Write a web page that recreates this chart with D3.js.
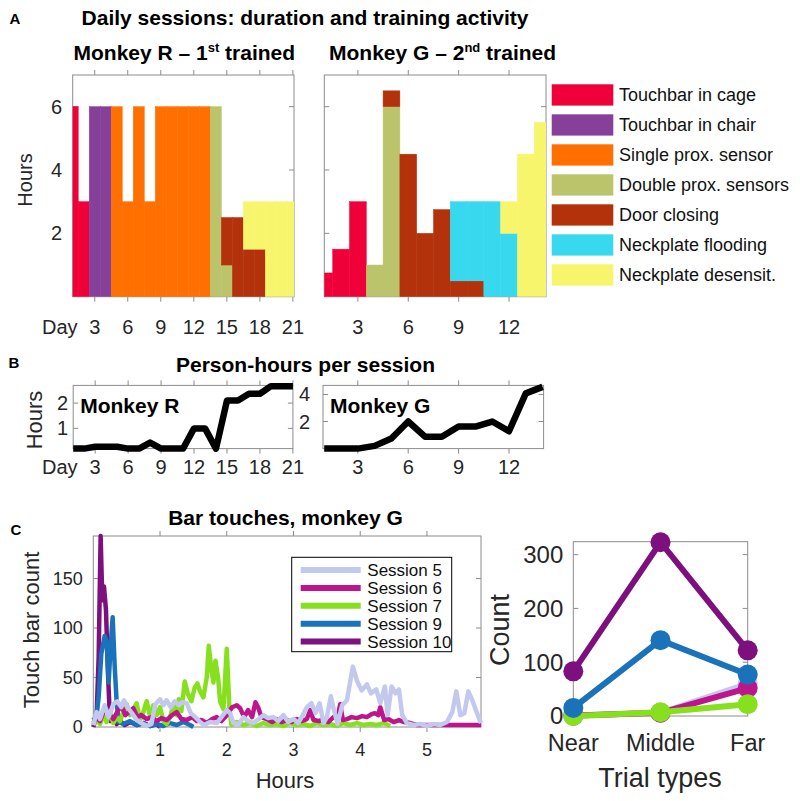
<!DOCTYPE html>
<html><head><meta charset="utf-8">
<script src="https://cdn.jsdelivr.net/npm/d3@7"></script>
<style>
body{margin:0;background:#fff;}
svg text{font-family:"Liberation Sans",Arial,Helvetica,sans-serif;}
</style></head><body>
<svg id="c" width="800" height="801"></svg>
<script>
// ---------------- DATA ----------------
const categories = ["Touchbar in cage","Touchbar in chair","Single prox. sensor","Double prox. sensors","Door closing","Neckplate flooding","Neckplate desensit."];
const catColors  = ["#EF0038","#87409A","#FF7000","#BBC46A","#B3320C","#38D9EF","#F7F56C"];

const daysR = d3.range(1,22);
const rCage   = [6,3,0,0,0,0,0,0,0,0,0,0,0,0,0,0,0,0,0,0,0];
const rChair  = [0,0,6,6,0,0,0,0,0,0,0,0,0,0,0,0,0,0,0,0,0];
const rSingle = [0,0,0,0,6,3,6,3,6,6,6,6,6,0,0,0,0,0,0,0,0];
const rDouble = [0,0,0,0,0,0,0,0,0,0,0,0,0,6,1,0,0,0,0,0,0];
const rDoor   = [0,0,0,0,0,0,0,0,0,0,0,0,0,0,1.5,2.5,1.5,1.5,0,0,0];
const rFlood  = [0,0,0,0,0,0,0,0,0,0,0,0,0,0,0,0,0,0,0,0,0];
const rDesens = [0,0,0,0,0,0,0,0,0,0,0,0,0,0,0,0,1.5,1.5,3,3,3];

const daysG = d3.range(1,15);
const gCage   = [0.75,1.5,3,0,0,0,0,0,0,0,0,0,0,0];
const gChair  = [0,0,0,0,0,0,0,0,0,0,0,0,0,0];
const gSingle = [0,0,0,0,0,0,0,0,0,0,0,0,0,0];
const gDouble = [0,0,0,1,6,0,0,0,0,0,0,0,0,0];
const gDoor   = [0,0,0,0,0.5,4.5,2,2.75,0.5,0.5,0,0,0,0];
const gFlood  = [0,0,0,0,0,0,0,0,2.5,2.5,3,2,0,0];
const gDesens = [0,0,0,0,0,0,0,0,0,0,0,1,4.5,5.5];

const dayTicksR = [3,6,9,12,15,18,21];
const dayTicksG = [3,6,9,12];
const hourTicksA = [2,4,6];

const personR = [0.2,0.2,0.27,0.27,0.27,0.2,0.2,0.44,0.2,0.2,0.2,1.0,1.0,0.2,2.1,2.1,2.37,2.37,2.67,2.67,2.67];
const personG = [0,0,0,0.2,0.75,2.0,0.88,0.88,1.63,1.63,2.0,1.28,4.08,4.56];
const hourTicksBR = [1,2];
const hourTicksBG = [2,4];

// bar touches, monkey G: [hour, touch count]
const session5 = [[0,2],[0.05,15],[0.1,8],[0.17,22],[0.23,10],[0.3,23],[0.36,26],[0.42,20],[0.46,27],[0.52,19],[0.58,14],[0.65,7],[0.72,4],[0.8,1],[0.87,3],[0.93,23],[1.0,28],[1.05,22],[1.1,27],[1.16,20],[1.22,26],[1.28,22],[1.33,25],[1.4,24],[1.46,14],[1.53,10],[1.6,5],[1.66,2],[1.75,5],[1.85,4],[1.92,10],[2.0,17],[2.05,14],[2.1,4],[2.18,3],[2.25,10],[2.32,6],[2.4,4],[2.48,8],[2.55,12],[2.62,9],[2.7,10],[2.77,6],[2.85,12],[2.92,5],[3.0,8],[3.07,4],[3.14,12],[3.2,20],[3.27,24],[3.33,14],[3.39,24],[3.45,4],[3.5,10],[3.56,31],[3.6,19],[3.66,3],[3.73,22],[3.8,27],[3.89,61],[3.95,47],[4.02,37],[4.1,43],[4.16,34],[4.24,38],[4.3,24],[4.37,41],[4.41,12],[4.47,41],[4.53,34],[4.58,38],[4.63,12],[4.7,4],[4.8,2],[4.9,3],[5.0,1],[5.1,3],[5.2,2],[5.3,5],[5.38,15],[5.44,36],[5.5,12],[5.56,14],[5.62,36],[5.68,27],[5.75,14],[5.81,4]];
const session6 = [[0,4],[0.05,10],[0.1,6],[0.15,15],[0.2,18],[0.25,12],[0.3,8],[0.35,14],[0.42,22],[0.48,12],[0.55,16],[0.6,19],[0.66,10],[0.72,12],[0.8,8],[0.87,10],[0.95,6],[1.02,9],[1.1,7],[1.18,12],[1.25,15],[1.32,8],[1.4,7],[1.48,10],[1.55,6],[1.62,7],[1.7,4],[1.78,8],[1.85,10],[1.92,6],[2.0,12],[2.08,20],[2.15,22],[2.2,19],[2.26,10],[2.32,17],[2.38,10],[2.43,25],[2.47,20],[2.52,10],[2.6,8],[2.68,5],[2.75,8],[2.82,5],[2.9,7],[2.97,5],[3.05,8],[3.12,6],[3.2,8],[3.25,17],[3.3,7],[3.38,6],[3.45,8],[3.52,5],[3.6,10],[3.66,9],[3.7,23],[3.74,7],[3.8,8],[3.87,10],[3.95,9],[4.03,11],[4.1,10],[4.17,13],[4.22,14],[4.27,12],[4.3,20],[4.36,7],[4.42,8],[4.5,5],[4.58,7],[4.66,5],[4.75,4],[4.85,2],[5.0,2],[5.2,2],[5.4,2],[5.6,2],[5.81,2]];
const session7 = [[0,2],[0.05,8],[0.1,3],[0.15,12],[0.2,5],[0.25,15],[0.3,4],[0.35,10],[0.4,6],[0.45,15],[0.5,23],[0.55,12],[0.6,18],[0.65,24],[0.7,7],[0.75,15],[0.8,26],[0.85,11],[0.9,22],[0.95,12],[1.0,20],[1.05,6],[1.1,3],[1.15,10],[1.2,22],[1.25,12],[1.28,28],[1.32,16],[1.37,46],[1.42,33],[1.47,26],[1.52,40],[1.56,44],[1.6,36],[1.65,30],[1.7,50],[1.73,82],[1.77,58],[1.8,45],[1.83,67],[1.87,50],[1.9,26],[1.95,18],[2.0,79],[2.04,18],[2.07,2],[2.15,5],[2.25,2],[2.35,4],[2.45,1],[2.55,4],[2.65,2],[2.75,3],[2.85,1],[2.95,4],[3.05,2],[3.15,3],[3.25,1],[3.35,4],[3.45,2],[3.55,3],[3.65,1],[3.75,4],[3.85,2],[3.95,4],[4.05,2],[4.15,3],[4.25,2],[4.35,4],[4.45,1]];
const session9 = [[0,10],[0.04,6],[0.08,30],[0.12,74],[0.17,92],[0.2,86],[0.23,45],[0.26,82],[0.29,111],[0.32,62],[0.35,25],[0.38,5],[0.45,3],[0.55,6],[0.65,2],[0.75,4],[0.85,1],[0.95,3],[1.05,1],[1.15,4],[1.25,2],[1.35,5],[1.45,2],[1.5,0]];
const session10 = [[0,0],[0.05,12],[0.08,70],[0.11,193],[0.135,128],[0.16,142],[0.19,118],[0.22,55],[0.25,6],[0.3,9],[0.35,3],[0.4,6],[0.47,2],[0.55,5],[0.65,2],[0.75,4],[0.85,1],[0.95,3],[1.0,0]];
const sessionNames  = ["Session 5","Session 6","Session 7","Session 9","Session 10"];
const sessionColors = ["#C3C8EE","#BE158C","#86E01E","#1A72BB","#7E0F7E"];
const hourTicksC = [1,2,3,4,5];
const countTicksC = [0,50,100,150];

const trialTypes = ["Near","Middle","Far"];
const countS5  = [0,6,60];
const countS6  = [1,6,52];
const countS7  = [0,7,22];
const countS9  = [15,141,77];
const countS10 = [83,323,122];
const countTicks = [0,100,200,300];

// ---------------- DRAW ----------------
const svg = d3.select("#c");
const AX = "#8c8c8c", TXT = "#262626";

function label(x,y,s,size,o={}){
  const t = svg.append("text").attr("x",x).attr("y",y).attr("dy","0.35em")
    .attr("font-size",size).attr("fill",o.fill||TXT)
    .attr("text-anchor",o.anchor||"middle").attr("font-weight",o.bold?"bold":null).text(s);
  if(o.rot) t.attr("transform",`rotate(${o.rot},${x},${y})`);
  return t;
}
function box(g,x0,x1,y0,y1){
  g.append("rect").attr("x",x0).attr("y",y0).attr("width",x1-x0).attr("height",y1-y0)
   .attr("fill","none").attr("stroke",AX).attr("stroke-width",1);
}
function inTicksY(g,y,ticks,x0,x1){
  ticks.forEach(t=>{
    g.append("line").attr("x1",x0).attr("x2",x0+5).attr("y1",y(t)).attr("y2",y(t)).attr("stroke",AX);
    g.append("line").attr("x1",x1).attr("x2",x1-5).attr("y1",y(t)).attr("y2",y(t)).attr("stroke",AX);
  });
}
function inTicksX(g,x,ticks,y0,y1){
  ticks.forEach(t=>{
    g.append("line").attr("y1",y0).attr("y2",y0+5).attr("x1",x(t)).attr("x2",x(t)).attr("stroke",AX);
    g.append("line").attr("y1",y1).attr("y2",y1-5).attr("x1",x(t)).attr("x2",x(t)).attr("stroke",AX);
  });
}

// Headings
label(15,19,"A",15,{bold:true,fill:"#000"});
label(305,18,"Daily sessions: duration and training activity",21,{bold:true,fill:"#000"});
function subTitle(x,y,pre,num,sup,post){
  const t = svg.append("text").attr("x",x).attr("y",y).attr("dy","0.35em").attr("font-size",21)
    .attr("font-weight","bold").attr("fill","#000");
  t.append("tspan").text(pre+num);
  t.append("tspan").attr("font-size",13).attr("dy",-8).text(sup);
  t.append("tspan").attr("dy",8).text(post);
}
subTitle(73.5,53,"Monkey R \u2013 ","1","st"," trained");
subTitle(329,53,"Monkey G \u2013 ","2","nd"," trained");

// Panel A
const yA = d3.scaleLinear().domain([0,7]).range([296.7,75]);
const xAR = d3.scaleLinear().domain([1,21.1]).range([72.7,294]);
const xAG = d3.scaleLinear().domain([1,14.2]).range([324.3,546]);
const defs = svg.append("defs");

function stackedPanel(id,x,days,arrays){
  const [x0,x1] = x.range();
  const g = svg.append("g");
  inTicksY(g,yA,hourTicksA,x0,x1);
  inTicksX(g,x,id==="R"?dayTicksR:dayTicksG,296.7,75);
  box(g,x0,x1,75,296.7);
  defs.append("clipPath").attr("id","clip"+id).append("rect")
    .attr("x",x0).attr("y",75).attr("width",x1-x0).attr("height",296.7-75);
  const rows = days.map((d,i)=>{const o={day:d}; categories.forEach((k,j)=>o[k]=arrays[j][i]); return o;});
  const st = d3.stack().keys(categories)(rows);
  g.append("g").attr("clip-path",`url(#clip${id})`)
   .selectAll("g").data(st).join("g")
   .attr("fill",(d,i)=>catColors[i]).attr("stroke",(d,i)=>catColors[i]).attr("stroke-width",0.5)
   .selectAll("rect").data(d=>d.filter(p=>p[1]-p[0]>0)).join("rect")
   .attr("x",p=>x(p.data.day-0.5)).attr("width",p=>x(p.data.day+0.5)-x(p.data.day-0.5))
   .attr("y",p=>yA(p[1])).attr("height",p=>yA(p[0])-yA(p[1]));
}
stackedPanel("R",xAR,daysR,[rCage,rChair,rSingle,rDouble,rDoor,rFlood,rDesens]);
stackedPanel("G",xAG,daysG,[gCage,gChair,gSingle,gDouble,gDoor,gFlood,gDesens]);

hourTicksA.forEach(t=>label(62,yA(t),String(t),20,{anchor:"end"}));
label(25,180,"Hours",20,{rot:-90});
label(42,327,"Day",20,{anchor:"start"});
dayTicksR.forEach(t=>label(xAR(t),327,String(t),20));
dayTicksG.forEach(t=>label(xAG(t),327,String(t),20));

// Legend A
const lg = svg.append("g");
categories.forEach((c,i)=>{
  const y0 = 84.3 + i*30;
  lg.append("rect").attr("x",551.7).attr("y",y0).attr("width",61.6).attr("height",21.3).attr("fill",catColors[i]);
  lg.append("text").attr("x",619).attr("y",y0+10.6).attr("dy","0.35em").attr("font-size",18).attr("fill","#111").text(c);
});

// Panel B
label(14,363,"B",15,{bold:true,fill:"#000"});
label(305.5,364.6,"Person-hours per session",21,{bold:true,fill:"#000"});
const xBR = d3.scaleLinear().domain([1,21]).range([73.2,292.9]);
const xBG = d3.scaleLinear().domain([1,14]).range([324.2,542.6]);
const yBR = d3.scaleLinear().domain([0.2,2.7]).range([448.6,385.4]);
const yBG = d3.scaleLinear().domain([0,4.67]).range([448.6,385.4]);
function personPanel(x,y,x0,x1,yt,dt,vals,days,name,labX){
  const g = svg.append("g");
  inTicksY(g,y,yt,x0,x1);
  inTicksX(g,x,dt,448.6,385.4);
  box(g,x0,x1,385.4,448.6);
  g.append("path").datum(vals.map((v,i)=>[days[i],v]))
   .attr("fill","none").attr("stroke","#000").attr("stroke-width",6.5).attr("stroke-linejoin","round")
   .attr("d",d3.line().x(d=>x(d[0])).y(d=>y(d[1])));
  yt.forEach(t=>label(labX,y(t),String(t),20,{anchor:"end"}));
  label(x0+7,405.7,name,21,{anchor:"start",bold:true,fill:"#000"});
}
personPanel(xBR,yBR,73.2,292.9,hourTicksBR,dayTicksR,personR,daysR,"Monkey R",68);
personPanel(xBG,yBG,323,543.6,hourTicksBG,dayTicksG,personG,daysG,"Monkey G",310);
label(34,420,"Hours",22,{rot:-90});
label(42,467,"Day",20,{anchor:"start"});
dayTicksR.forEach(t=>label(xBR(t),467,String(t),20));
dayTicksG.forEach(t=>label(xBG(t),467,String(t),20));

// Panel C left
label(16,530,"C",15,{bold:true,fill:"#000"});
label(285.5,518,"Bar touches, monkey G",21,{bold:true,fill:"#000"});
const xC = d3.scaleLinear().domain([0,5.81]).range([93.3,481]);
const yC = d3.scaleLinear().domain([0,193]).range([727,536]);
{
  const g = svg.append("g");
  inTicksY(g,yC,[50,100,150],93.3,481);
  inTicksX(g,xC,hourTicksC,727,536);
  box(g,93.3,481,536,727);
  const series = [session5,session6,session7,session9,session10];
  const line = d3.line().x(d=>xC(d[0])).y(d=>yC(d[1]));
  // later sessions drawn first so that Session 5 ends on top
  for(let i=series.length-1;i>=0;i--){
    g.append("path").datum(series[i]).attr("fill","none").attr("stroke",sessionColors[i])
     .attr("stroke-width",4.5).attr("stroke-linejoin","round").attr("d",line);
  }
  countTicksC.forEach(t=>label(82.7,yC(t),String(t),18,{anchor:"end"}));
  hourTicksC.forEach(t=>label(xC(t),750,String(t),18));
  label(31.7,630,"Touch bar count",22,{rot:-90});
  label(285,780,"Hours",22);
  // legend
  g.append("rect").attr("x",291.7).attr("y",557.3).attr("width",160).attr("height",94.4)
   .attr("fill","#fff").attr("stroke","#000").attr("stroke-width",1);
  sessionNames.forEach((s,i)=>{
    const yy = 570 + i*17.9;
    g.append("line").attr("x1",300.7).attr("x2",360.7).attr("y1",yy).attr("y2",yy)
     .attr("stroke",sessionColors[i]).attr("stroke-width",6);
    g.append("text").attr("x",367.3).attr("y",yy).attr("dy","0.35em").attr("font-size",17).attr("fill","#111").text(s);
  });
}

// Panel C right
const xT = d3.scalePoint().domain(trialTypes).range([573.3,747.7]);
const yT = d3.scaleLinear().domain([0,324]).range([716,541.7]);
{
  const g = svg.append("g");
  inTicksY(g,yT,[100,200,300],573.3,747.7);
  box(g,573.3,747.7,541.7,716);
  const counts = [countS5,countS6,countS7,countS9,countS10];
  const line = d3.line().x(d=>xT(d[0])).y(d=>yT(d[1]));
  counts.forEach((c,i)=>{
    const pts = c.map((v,j)=>[trialTypes[j],v]);
    g.append("path").datum(pts).attr("fill","none").attr("stroke",sessionColors[i])
     .attr("stroke-width",6).attr("d",line);
    g.selectAll(null).data(pts).join("circle").attr("cx",d=>xT(d[0])).attr("cy",d=>yT(d[1]))
     .attr("r",10).attr("fill",sessionColors[i]);
  });
  countTicks.forEach(t=>label(563.3,yT(t),String(t),24,{anchor:"end"}));
  trialTypes.forEach(t=>label(xT(t),743,t,23.5));
  label(500,630,"Count",27,{rot:-90});
  label(660,778,"Trial types",27);
}
</script>
</body></html>
